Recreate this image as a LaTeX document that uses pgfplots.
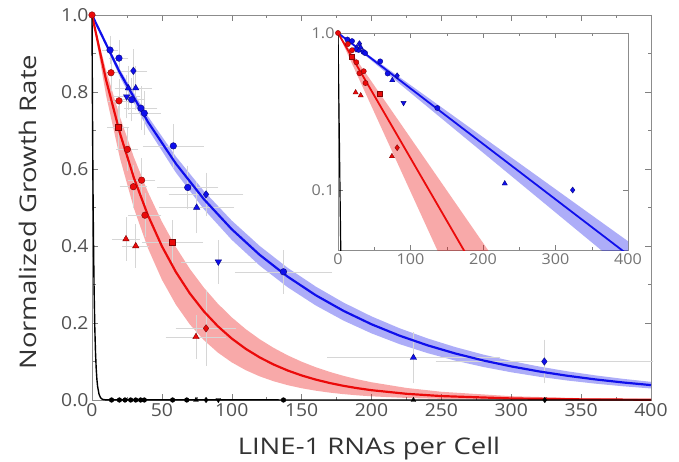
\documentclass[border=0pt]{standalone}
\usepackage{fontspec}
\setmainfont{Open Sans}
\newfontfamily\labelfont[FakeStretch=1.2]{Open Sans}
\newfontfamily\tickfont[FakeStretch=1.08]{Open Sans}
\usepackage{pgfplots}
\pgfplotsset{compat=1.18}
\usepackage{pgfplotstable}
\definecolor{myblue}{RGB}{15,15,235}
\definecolor{myred}{RGB}{235,10,10}

% fitted curves: x, centre
\pgfplotstableread{
x c
0 1
20 0.84993
40 0.72238
60 0.61397
80 0.52183
100 0.44352
120 0.37696
140 0.32039
160 0.27231
180 0.23144
200 0.19671
220 0.16719
240 0.14210
260 0.12077
280 0.10265
300 0.08724
320 0.07415
340 0.06302
360 0.05357
380 0.04553
400 0.03869
}\bluefit
% confidence band outline (lower edge forward, upper edge back)
\pgfplotstableread{
x y
0 1
20 0.83909
40 0.70407
60 0.59078
80 0.49572
100 0.41595
120 0.34902
140 0.29286
160 0.24574
180 0.20620
200 0.17302
220 0.14518
240 0.12182
260 0.10222
280 0.08577
300 0.07197
320 0.06039
340 0.05067
360 0.04252
380 0.03568
400 0.02994
400 0.04720
380 0.05498
360 0.06405
340 0.07461
320 0.08692
300 0.10126
280 0.11796
260 0.13742
240 0.16008
220 0.18649
200 0.21725
180 0.25308
160 0.29483
140 0.34346
120 0.40011
100 0.46610
80 0.54298
60 0.63254
40 0.73687
20 0.85841
0 1
}\blueband

\pgfplotstableread{
x c
0 1
10 0.83236
20 0.69283
30 0.57668
40 0.48001
50 0.39954
60 0.33257
70 0.27682
80 0.23041
90 0.19178
100 0.15963
110 0.13287
120 0.11060
130 0.09206
140 0.07663
150 0.06378
160 0.05309
170 0.04419
180 0.03678
190 0.03062
200 0.02548
225 0.01611
250 0.01018
300 0.00407
350 0.00163
400 0.00065
}\redfit
\pgfplotstableread{
x y
0 1
10 0.79250
20 0.62806
30 0.49774
40 0.39446
50 0.31261
60 0.24775
70 0.19634
80 0.15560
90 0.12332
100 0.09773
110 0.07745
120 0.06138
130 0.04864
140 0.03855
150 0.03055
160 0.02421
170 0.01919
180 0.01521
190 0.01205
200 0.00955
225 0.00534
250 0.00298
300 0.00093
350 0.00029
400 0.000091
400 0.00212
350 0.00459
300 0.00990
250 0.02137
225 0.03138
200 0.04610
190 0.05377
180 0.06271
170 0.07314
160 0.08530
150 0.09949
140 0.11604
130 0.13533
120 0.15784
110 0.18409
100 0.21471
90 0.25042
80 0.29207
70 0.34064
60 0.39729
50 0.46337
40 0.54043
30 0.63031
20 0.73514
10 0.85740
0 1
}\redband

\pgfplotstableread{
x y
0 1
0.25 0.8119
0.5 0.6592
0.75 0.5353
1 0.4346
1.5 0.2865
2 0.1889
2.5 0.1245
3 0.0821
3.5 0.0541
4 0.0357
5 0.0155
6 0.0067
7 0.0029
8 0.0013
10 0.0002
400 0
}\blackfit

\pgfplotstableread{
x y
0 1
0.25 0.8119
0.5 0.6592
0.75 0.5353
1 0.4346
1.5 0.2865
2 0.1889
2.5 0.1245
3 0.0821
3.5 0.0541
4 0.0357
5 0.0155
6 0.0067
}\blackfitlog

% data points: x, y, x error, y error
\pgfplotstableread{
x y ex ey
12.9 0.909 4 0.03
19.3 0.888 5 0.04
28.4 0.780 8 0.05
35.0 0.758 10 0.05
37.4 0.745 10 0.05
58.2 0.660 20 0.05
68.5 0.552 20 0.05
137 0.333 33 0.05
}\bluecirc
\pgfplotstableread{
x y ex ey
29.6 0.855 8 0.05
81.6 0.534 25 0.05
323.7 0.100 76 0.05
}\bluediam
\pgfplotstableread{
x y ex ey
26.0 0.810 8 0.05
31.3 0.810 10 0.05
74.9 0.500 25 0.06
230 0.110 60 0.06
}\bluetri
\pgfplotstableread{
x y ex ey
24.8 0.788 8 0.05
90.4 0.359 25 0.05
}\bluedown
\pgfplotstableread{
x y ex ey
0 1 0 0
13.6 0.850 4 0.04
19.3 0.777 6 0.05
25.3 0.651 6 0.05
35.5 0.571 8 0.05
29.6 0.554 8 0.05
37.9 0.480 10 0.05
}\redcirc
\pgfplotstableread{
x y ex ey
18.8 0.708 6 0.05
57.7 0.411 20 0.05
}\redsq
\pgfplotstableread{
x y ex ey
24.3 0.418 8 0.05
31.3 0.400 8 0.05
74.4 0.164 20 0.05
}\redtri
\pgfplotstableread{
x y ex ey
81.6 0.186 20 0.09
}\reddiam
\pgfplotstableread{
x y
14 0
19.6 0
23.6 0
27.7 0
31.3 0
34.8 0
37.4 0
57.7 0
67.8 0
137 0
}\blackcirc
\pgfplotstableread{
x y
74.4 0
230 0
}\blacktri
\pgfplotstableread{
x y
81.6 0
324 0
}\blackdiam
\pgfplotstableread{
x y
90.4 0
}\blackdown

\pgfplotsset{
  errs/.style={error bars/.cd, x dir=both, x explicit, y dir=both, y explicit,
    error bar style={black!16, line width=0.5pt},
    error mark options={black!16, line width=0.5pt, mark size=2.5bp}},
  bmark/.style={only marks, mark size=#1, mark options={fill=myblue, draw=myblue!55!black, line width=0.4pt}},
  bdown/.style={only marks, mark=triangle*, mark size=#1, mark options={fill=myblue, draw=myblue!55!black, line width=0.4pt, rotate=180}},
  rmark/.style={only marks, mark size=#1, mark options={fill=myred, draw=myred!55!black, line width=0.4pt}},
  kmark/.style={only marks, mark size=#1, mark options={fill=black, draw=black, line width=0.3pt}},
  kdown/.style={only marks, mark=triangle*, mark size=#1, mark options={fill=black, draw=black, line width=0.3pt, rotate=180}},
}

\begin{document}
\begin{tikzpicture}
\path[use as bounding box] (0,0) rectangle (679bp,462bp);
\begin{axis}[
  at={(92bp,62bp)}, anchor=south west,
  width=559bp, height=385bp, scale only axis,
  xmin=0, xmax=400, ymin=0, ymax=1,
  xtick={0,50,100,150,200,250,300,350,400},
  ytick={0,0.2,0.4,0.6,0.8,1},
  minor x tick num=1, minor y tick num=1,
  axis line style={black!45, line width=0.6pt},
  tick style={black!50, line width=0.5pt},
  major tick length=6bp, minor tick length=3.5bp,
  /pgf/number format/assume math mode=true,
  ticklabel style={font=\tickfont\fontsize{18}{18}\selectfont, text=black!68},
  yticklabel style={/pgf/number format/.cd, fixed, fixed zerofill, precision=1},
  xlabel={LINE-1 RNAs per Cell},
  ylabel={Normalized Growth Rate},
  label style={font=\labelfont\fontsize{23}{23}\selectfont, text=black!80},
  xlabel style={at={(axis description cs:0.4955,-0.1273)}, anchor=center},
  ylabel style={at={(axis description cs:-0.1145,0.488)}, anchor=center},
  clip=false,
]
% bands
\addplot[fill=myblue, fill opacity=0.34, draw=none] table {\blueband};
\addplot[fill=myred, fill opacity=0.35, draw=none] table {\redband};
% error bars + points
\addplot[bmark=3.3bp, mark=*, errs] table[x=x, y=y, x error=ex, y error=ey] {\bluecirc};
\addplot[bmark=3.7bp, mark=diamond*, errs] table[x=x, y=y, x error=ex, y error=ey] {\bluediam};
\addplot[bmark=3.7bp, mark=triangle*, errs] table[x=x, y=y, x error=ex, y error=ey] {\bluetri};
\addplot[bdown=3.7bp, errs] table[x=x, y=y, x error=ex, y error=ey] {\bluedown};
\addplot[rmark=3.3bp, mark=*, errs] table[x=x, y=y, x error=ex, y error=ey] {\redcirc};
\addplot[rmark=3bp, mark=square*, errs] table[x=x, y=y, x error=ex, y error=ey] {\redsq};
\addplot[rmark=3.7bp, mark=triangle*, errs] table[x=x, y=y, x error=ex, y error=ey] {\redtri};
\addplot[rmark=3.7bp, mark=diamond*, errs] table[x=x, y=y, x error=ex, y error=ey] {\reddiam};
% curves
\addplot[myblue, line width=2.2pt] table[x=x, y=c] {\bluefit};
\addplot[myred, line width=2.2pt] table[x=x, y=c] {\redfit};
\addplot[black, line width=1.4pt] table {\blackfit};
\addplot[kmark=2.4bp, mark=*] table {\blackcirc};
\addplot[kmark=2.8bp, mark=triangle*] table {\blacktri};
\addplot[kmark=2.8bp, mark=diamond*] table {\blackdiam};
\addplot[kdown=2.8bp] table {\blackdown};
\end{axis}

\fill[white] (338bp,212bp) rectangle (628bp,429bp);
\begin{axis}[
  at={(338bp,212bp)}, anchor=south west,
  width=290bp, height=217bp, scale only axis,
  ymode=log, xmin=0, xmax=400, ymin=0.0415, ymax=1,
  xtick={0,100,200,300,400}, minor x tick num=1,
  ytick={0.1,1}, yticklabels={0.1,1.0}, yminorticks=false,
  axis line style={black!45, line width=0.6pt},
  tick style={black!50, line width=0.5pt},
  major tick length=5bp, minor tick length=3bp,
  ticklabel style={font=\tickfont\fontsize{15}{15}\selectfont, text=black!55},
  xticklabel={\pgfmathprintnumber[assume math mode=true]{\tick}},
]
\addplot[fill=myblue, fill opacity=0.34, draw=none] table {\blueband};
\addplot[fill=myred, fill opacity=0.35, draw=none] table {\redband};
\addplot[bmark=2.6bp, mark=*] table[x=x, y=y] {\bluecirc};
\addplot[bmark=3bp, mark=diamond*] table[x=x, y=y] {\bluediam};
\addplot[bmark=3bp, mark=triangle*] table[x=x, y=y] {\bluetri};
\addplot[bdown=3bp] table[x=x, y=y] {\bluedown};
\addplot[rmark=2.6bp, mark=*] table[x=x, y=y] {\redcirc};
\addplot[rmark=2.4bp, mark=square*] table[x=x, y=y] {\redsq};
\addplot[rmark=3bp, mark=triangle*] table[x=x, y=y] {\redtri};
\addplot[rmark=3bp, mark=diamond*] table[x=x, y=y] {\reddiam};
\addplot[myblue, line width=1.8pt] table[x=x, y=c] {\bluefit};
\addplot[myred, line width=1.8pt] table[x=x, y=c] {\redfit};
\addplot[black, line width=1.2pt] table {\blackfitlog};
\end{axis}
\end{tikzpicture}
\end{document}
